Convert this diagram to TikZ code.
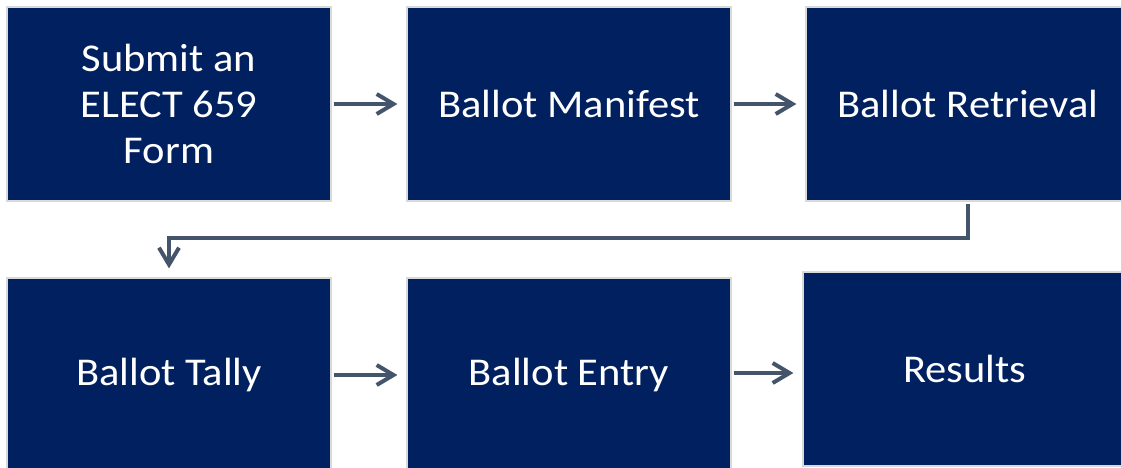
\documentclass[tikz,border=0pt]{standalone}
\usepackage{fontspec}
\setmainfont[FakeStretch=1.08]{Carlito}
\usetikzlibrary{arrows.meta}
\definecolor{navy}{RGB}{0,32,96}
\definecolor{slate}{RGB}{68,84,106}
\definecolor{rim}{RGB}{217,217,217}
\tikzset{
  stepbox/.style={fill=navy, draw=rim, line width=1.1pt, text=white,
    minimum width=8.1cm, minimum height=4.85cm, inner sep=0pt,
    align=flush center, text width=7.6cm, font=\fontsize{28}{32.5}\selectfont},
  flow/.style={draw=slate, line width=0.1cm,
    -{Straight Barb[length=0.42cm,width=0.5cm]},
    shorten <=0.05cm, shorten >=0.22cm}
}
\begin{document}
\begin{tikzpicture}[x=0.025cm, y=-0.025cm]
\useasboundingbox (0,0) rectangle (1121,468);
\clip (0,0) rectangle (1121,468);
% top row
\node[stepbox] (form) at (169,104) {Submit an\\ELECT 659\\Form};
\node[stepbox] (manifest) at (569,104) {Ballot Manifest};
\node[stepbox] (retr) at (968,104) {Ballot Retrieval};
% bottom row
\node[stepbox] (tally) at (169,375) {Ballot Tally};
\node[stepbox] (entry) at (569,375) {Ballot Entry};
\node[stepbox] (results) at (965,369) {Results};
% helper points for the connectors
\coordinate (turn) at (0,238);
\coordinate (lastrow) at (0,373);
\draw[flow] (form) -- (manifest);
\draw[flow] (manifest) -- (retr);
\draw[flow] (retr.south) -- (retr.south |- turn) -| (tally.north);
\draw[flow] (tally) -- (entry);
\draw[flow] (entry.east |- lastrow) -- (results.west |- lastrow);
\end{tikzpicture}
\end{document}
